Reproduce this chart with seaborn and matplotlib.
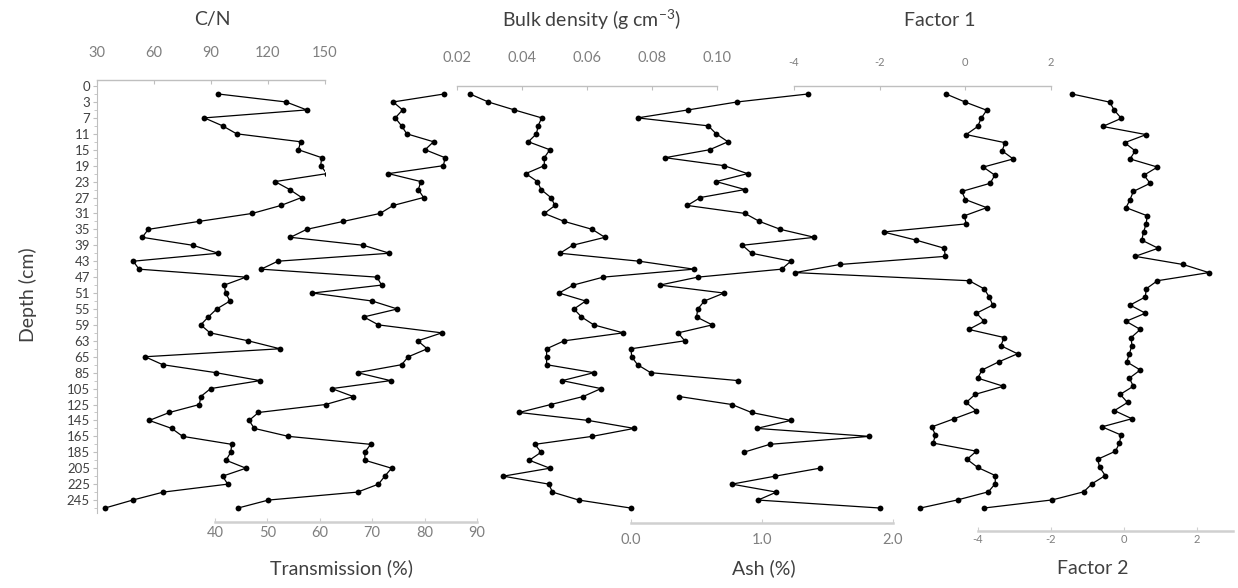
import numpy as np
import pandas as pd
import matplotlib
matplotlib.use("Agg")
import matplotlib.pyplot as plt
import matplotlib.patches as mpatches
import seaborn as sns

# ---------------- data ----------------
depth_labels = ['0', '3', '7', '11', '15', '19', '23', '27', '31', '35', '39', '43', '47',
                '51', '55', '59', '63', '65', '85', '105', '125', '145', '165', '185',
                '205', '225', '245']

cn = [93.9, 129.5, 140.4, 86.5, 96.1, 103.5, 137.2, 136.0, 148.3, 147.7,
      151.0, 123.7, 131.4, 137.7, 126.8, 111.7, 83.7, 57.0, 53.8, 80.4,
      93.8, 49.1, 52.1, 108.4, 97.0, 97.7, 100.0, 93.0, 88.6, 84.6,
      89.5, 109.6, 126.3, 55.3, 64.6, 92.6, 115.8, 89.8, 84.6, 83.9,
      68.1, 57.5, 69.3, 75.1, 100.9, 100.4, 97.9, 108.4, 96.1, 98.8,
      64.9, 48.8, 34.2]

transmission = [83.7, 74.0, 75.8, 74.4, 75.6, 76.6, 81.7, 80.1, 83.9, 83.6,
                73.1, 79.3, 78.8, 79.8, 74.0, 71.5, 64.5, 57.5, 54.4, 68.3,
                73.3, 52.0, 48.8, 70.9, 71.8, 58.6, 70.0, 74.8, 68.4, 71.2,
                83.3, 78.7, 80.5, 76.9, 75.6, 67.2, 73.5, 62.3, 66.4, 61.1,
                48.3, 46.5, 47.5, 54.0, 69.7, 68.6, 68.6, 73.7, 72.4, 71.2,
                67.2, 50.2, 44.4]

bulk_density = [0.0241, 0.0297, 0.0377, 0.0461, 0.0450, 0.0445, 0.0420, 0.0486, 0.0469, 0.0469,
                0.0412, 0.0448, 0.0459, 0.0489, 0.0502, 0.0469, 0.0530, 0.0616, 0.0655, 0.0556,
                0.0517, 0.0760, 0.0928, 0.0650, 0.0558, 0.0514, 0.0596, 0.0560, 0.0583, 0.0621,
                0.0711, 0.0530, 0.0476, 0.0476, 0.0476, 0.0621, 0.0524, 0.0643, 0.0588, 0.0489,
                0.0392, 0.0604, 0.0745, 0.0616, 0.0440, 0.0459, 0.0423, 0.0486, 0.0343, 0.0483,
                0.0494, 0.0575, 0.0734]

ash = [1.35, 0.81, 0.435, 0.05, 0.59, 0.65, 0.74, 0.60, 0.26, 0.71,
       0.89, 0.65, 0.87, 0.53, 0.43, 0.87, 0.98, 1.14, 1.40, 0.85,
       0.92, 1.22, 1.15, 0.51, 0.22, 0.71, 0.56, 0.51, 0.50, 0.62,
       0.36, 0.41, 0.00, 0.005, 0.05, 0.15, 0.82, np.nan, 0.37, 0.77,
       0.92, 1.22, 0.96, 1.82, 1.06, 0.86, np.nan, 1.44, 1.10, 0.77,
       1.11, 0.97, 1.90]

factor1 = [-0.45, 0.00, 0.50, 0.37, 0.29, 0.02, 0.93, 0.86, 1.12, 0.42,
           0.69, 0.58, -0.08, 0.00, 0.50, -0.02, 0.02, -1.91, -1.15, -0.49,
           -0.47, -2.93, -3.98, 0.09, 0.44, 0.56, 0.64, 0.26, 0.44, 0.08,
           0.91, 0.83, 1.22, 0.78, 0.39, 0.29, 0.89, 0.23, 0.02, 0.25,
           -0.26, -0.78, -0.70, -0.75, 0.26, 0.04, 0.29, 0.70, 0.70, 0.54,
           -0.18, -1.05]

factor2 = [-1.41, -0.38, -0.25, -0.06, -0.57, 0.62, 0.03, 0.32, 0.18, 0.93,
           0.56, 0.73, 0.27, 0.18, 0.07, 0.65, 0.62, 0.55, 0.50, 0.95,
           0.32, 1.63, 2.34, 0.93, 0.62, 0.60, 0.18, 0.60, 0.07, 0.46,
           0.21, 0.23, 0.16, 0.09, 0.46, 0.16, 0.27, -0.09, 0.11, -0.25,
           0.23, -0.59, -0.07, -0.11, -0.22, -0.71, -0.65, -0.50, -0.86, -1.09,
           -1.95, -3.82]

# ---------------- style ----------------
sns.set_style("white")
plt.rcParams['font.family'] = ['Lato', 'DejaVu Sans']
plt.rcParams['mathtext.default'] = 'regular'

W, H = 1238, 588
fig = plt.figure(figsize=(W / 100, H / 100), dpi=100)
L, R, T, B = 97, 1238, 80, 535
rect = [L / W, 1 - B / H, (R - L) / W, (B - T) / H]
y0, step = 94.0, 7.962          # pixel of first category, pixels per category
ylim = ((B - y0) / step, (T - y0) / step)

TITLE_C = '#404040'
TICK_C = '#7f7f7f'
SPINE_C = '#bfbfbf'


def frac_y(px):
    return (B - px) / (B - T)


def make_ax(name):
    ax = fig.add_axes(rect, label=name)
    ax.patch.set_alpha(0)
    for s in ax.spines.values():
        s.set_visible(False)
    return ax


def draw(ax, values, spacing):
    vals = np.asarray(values, dtype=float)
    pos = np.arange(len(vals)) * spacing
    seg = np.cumsum(np.isnan(vals))
    df = pd.DataFrame({'value': vals, 'pos': pos, 'seg': seg}).dropna()
    sns.lineplot(data=df, x='value', y='pos', units='seg', estimator=None, sort=False,
                 color='black', linewidth=0.9, marker='o', markersize=4.2,
                 markeredgewidth=0, ax=ax, legend=False)
    ax.set_xlabel('')
    ax.set_ylabel('')


def setup_x(ax, a, b, side, spine_px, bounds, ticks, labels, fs, pad, lw=1.0, color=SPINE_C):
    ax.set_xlim((L - a) / b, (R - a) / b)
    ax.set_ylim(*ylim)
    ax.set_yticks([])
    sp = ax.spines[side]
    sp.set_visible(True)
    sp.set_color(color)
    sp.set_linewidth(lw)
    sp.set_position(('axes', frac_y(spine_px)))
    sp.set_bounds(*bounds)
    if side == 'top':
        ax.xaxis.set_ticks_position('top')
        ax.xaxis.set_label_position('top')
    else:
        ax.xaxis.set_ticks_position('bottom')
    ax.set_xticks(ticks)
    ax.set_xticklabels(labels)
    ax.tick_params(axis='x', direction='in', length=3, width=0.8, color=color,
                   labelsize=fs, labelcolor=TICK_C, pad=pad)


# base axis with depth labels + C/N
ax0 = make_ax('cn')
draw(ax0, cn, 1.0)
setup_x(ax0, 40.0, 1.9, 'top', 80, (30, 150), [30, 60, 90, 120, 150],
        ['30', '60', '90', '120', '150'], 10.5, 14.5)
# the C/N plot area ends at 150: clip the series there, as in the original chart
clip = mpatches.Rectangle((-1000, -100), 1150, 300, transform=ax0.transData)
for ln in ax0.lines:
    ln.set_clip_path(clip)
ax0.spines['left'].set_visible(True)
ax0.spines['left'].set_color(SPINE_C)
ax0.spines['left'].set_bounds(ylim[1], (513 - y0) / step)
label_pos = [-1 + 2 * j for j in range(len(depth_labels))]
ax0.set_yticks(label_pos)
ax0.set_yticklabels(depth_labels)
ax0.yaxis.set_ticks_position('left')
ax0.tick_params(axis='y', direction='out', length=3, width=0.8, color=SPINE_C,
                labelsize=9.5, labelcolor='#404040', pad=2)
ax0.set_yticks([p + 1 for p in label_pos], minor=True)
ax0.tick_params(axis='y', which='minor', direction='out', length=2, width=0.6, color=SPINE_C)

# Transmission
ax1 = make_ax('trans')
draw(ax1, transmission, 1.0)
setup_x(ax1, 5.4, 5.24, 'bottom', 522, (40, 90), [40, 50, 60, 70, 80, 90],
        ['40', '50', '60', '70', '80', '90'], 10.5, 3, lw=1.8, color='#d0d0d0')

# Bulk density
ax2 = make_ax('bulk')
draw(ax2, bulk_density, 1.0)
setup_x(ax2, 391.5, 3258.0, 'top', 86, (0.02, 0.10), [0.02, 0.04, 0.06, 0.08, 0.10],
        ['0.02', '0.04', '0.06', '0.08', '0.10'], 10.5, 15.0)

# Ash
ax3 = make_ax('ash')
draw(ax3, ash, 1.0)
setup_x(ax3, 631.0, 131.0, 'bottom', 523, (0, 2), [0, 1, 2],
        ['0.0', '1.0', '2.0'], 10.5, 7, lw=1.8, color='#d0d0d0')

# Factor 1 (52 samples spread over the same depth span)
fspace = 52.0 / 51.0
ax4 = make_ax('f1')
draw(ax4, factor1, fspace)
setup_x(ax4, 965.3, 42.8, 'top', 86, (-4, 2), [-4, -2, 0, 2],
        ['-4', '-2', '0', '2'], 8, 13)

# Factor 2
ax5 = make_ax('f2')
draw(ax5, factor2, fspace)
setup_x(ax5, 1123.5, 36.5, 'bottom', 531, (-4, 3), [-4, -2, 0, 2],
        ['-4', '-2', '0', '2'], 8, 2, lw=1.8, color='#d0d0d0')

for ax in (ax0, ax1, ax2, ax3, ax4, ax5):
    ax.set_ylim(*ylim)


def ftext(x, y, s, **kw):
    fig.text(x / W, 1 - y / H, s, ha='center', va='center', color=TITLE_C, **kw)


ftext(212, 20, 'C/N', fontsize=14)
ftext(591, 20, r'Bulk density (g cm$^{-3}$)', fontsize=14)
ftext(940, 20, 'Factor 1', fontsize=14)
ftext(342, 568, 'Transmission (%)', fontsize=14)
ftext(764, 568, 'Ash (%)', fontsize=14)
ftext(1093, 568, 'Factor 2', fontsize=14)
ftext(28, 295, 'Depth (cm)', fontsize=14, rotation=90)

fig.savefig('out.png', dpi=100)
